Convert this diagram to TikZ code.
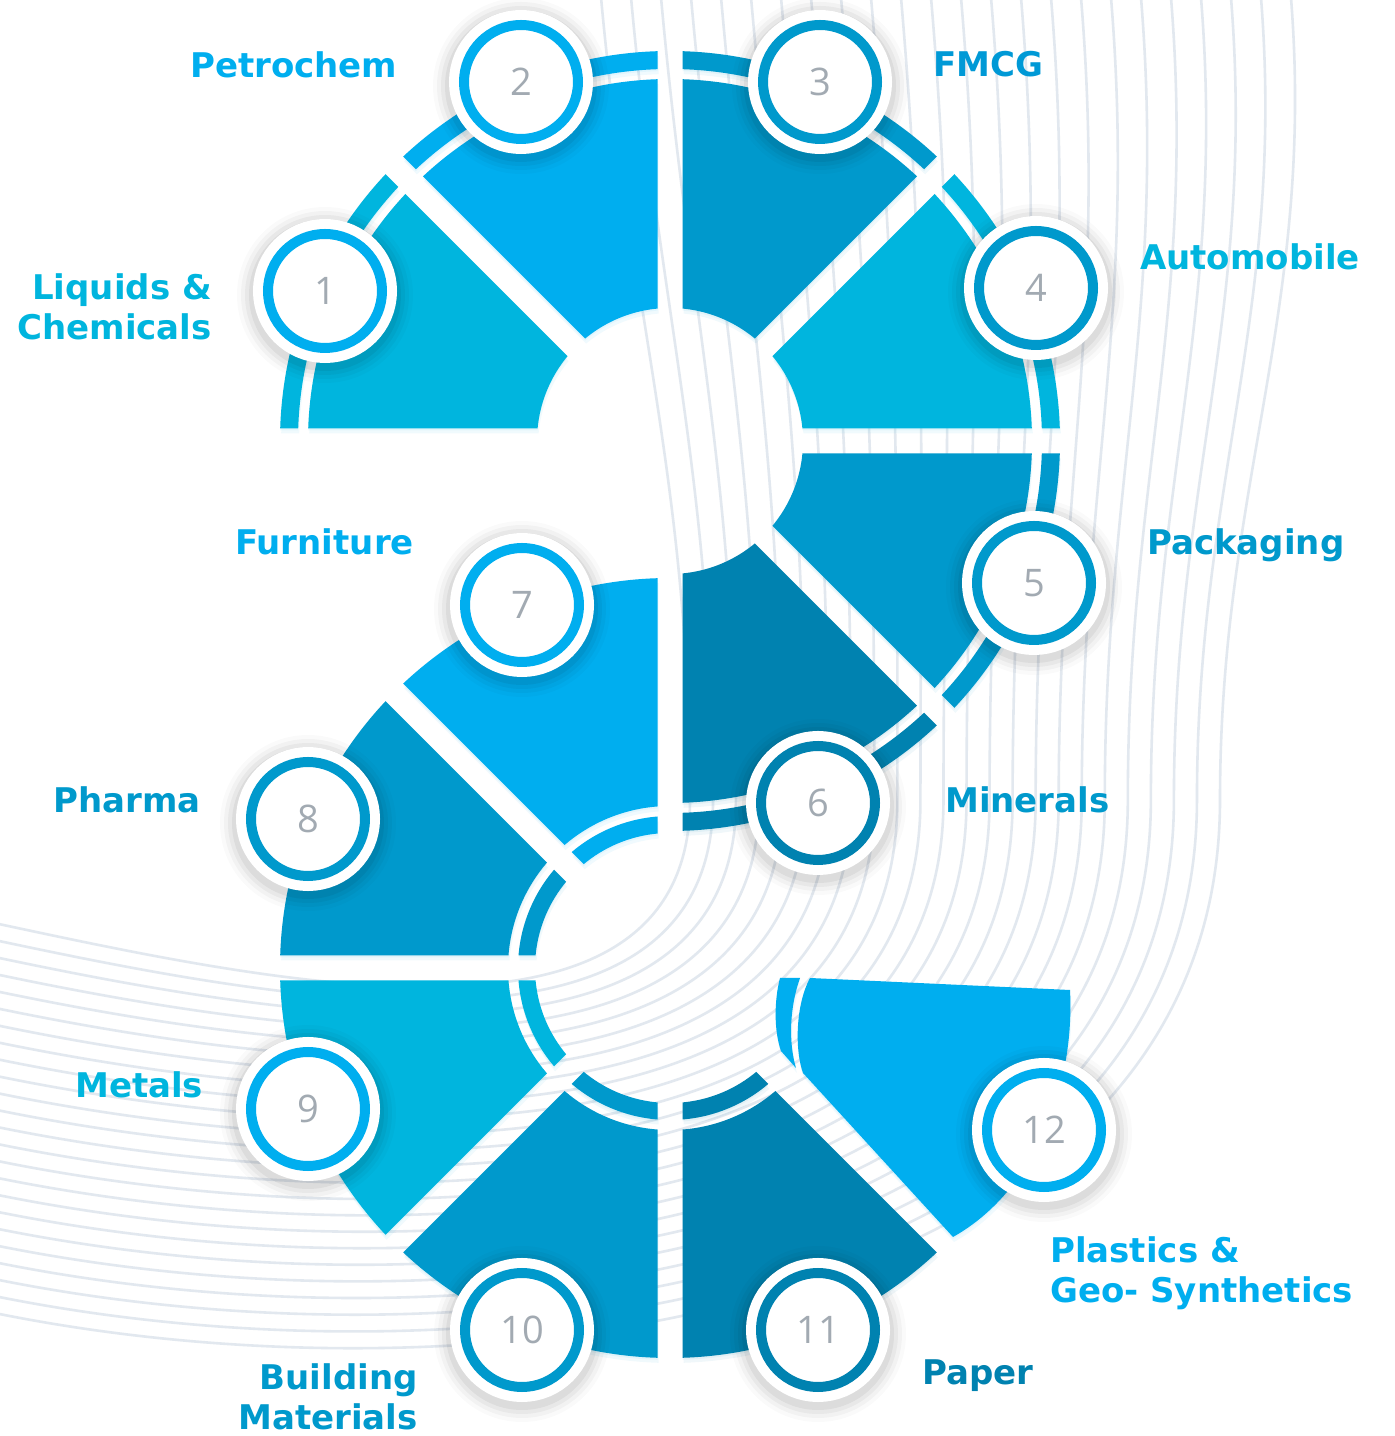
\documentclass[tikz,border=0pt]{standalone}
\usepackage{fontspec}
\setmainfont{DejaVu Sans}
\newfontfamily\numfont{Open Sans}
\usetikzlibrary{calc}

\definecolor{cA}{HTML}{00B5DE}
\definecolor{cB}{HTML}{00AEEF}
\definecolor{cC}{HTML}{0099CC}
\definecolor{cD}{HTML}{0082B0}
\definecolor{cF}{HTML}{0099D6}
\definecolor{bgl}{HTML}{E2E8EF}
\definecolor{numgray}{HTML}{A2AAB2}

% #1 cx, #2 cy, #3 a1, #4 a2, #5 style, #6 fill rin, #7 fill rout, #8 band rin, #9 band rout
\newcommand\ringseg[9]{%
  \pgfmathsetmacro\sgBis{(#3+#4)/2}%
  \pgfmathsetmacro\sgApx{12.5/sin((#4-#3)/2)}%
  \pgfmathsetmacro\sgPx{#1+\sgApx*cos(\sgBis)}%
  \pgfmathsetmacro\sgPy{#2+\sgApx*sin(\sgBis)}%
  \begin{scope}
    \clip (\sgPx,\sgPy) -- ({\sgPx+900*cos(#3)},{\sgPy+900*sin(#3)})
      -- ({\sgPx+1200*cos(\sgBis)},{\sgPy+1200*sin(\sgBis)})
      -- ({\sgPx+900*cos(#4)},{\sgPy+900*sin(#4)}) -- cycle;
    \fill[#5, even odd rule] (#1,#2) circle[radius=#7pt] (#1,#2) circle[radius=#6pt];
    \fill[#5, even odd rule] (#1,#2) circle[radius=#9pt] (#1,#2) circle[radius=#8pt];
  \end{scope}}

% segment 12 (irregular)
\newcommand\segtwelve[1]{%
  \fill[#1] (810,458) -- (1070,446) .. controls (1075,350) and (1035,245) .. (953,199) -- (803,363)
     .. controls (795,385) and (795,430) .. cycle;
  \fill[#1] (780,458) -- (800,458) .. controls (790,430) and (788,395) .. (796,368) -- (781,385)
     .. controls (774,405) and (774,435) .. cycle;}

\newcommand\allsegs[1]{%
  % top wheel, centre (670,995)
  \ringseg{670}{995}{135}{180}{#1,cA}{133}{362}{372}{390}
  \ringseg{670}{995}{90}{135}{#1,cB}{133}{362}{372}{390}
  \ringseg{670}{995}{45}{90}{#1,cC}{133}{362}{372}{390}
  \ringseg{670}{995}{0}{45}{#1,cA}{133}{362}{372}{390}
  \ringseg{670}{995}{-45}{0}{#1,cC}{133}{362}{372}{390}
  \ringseg{670}{995}{-90}{-45}{#1,cD}{133}{362}{372}{390}
  % lower wheel, centre (670,468)
  \ringseg{670}{468}{90}{135}{#1,cB}{162}{390}{135}{152}
  \ringseg{670}{468}{135}{180}{#1,cC}{162}{390}{135}{152}
  \ringseg{670}{468}{180}{225}{#1,cA}{162}{390}{135}{152}
  \ringseg{670}{468}{225}{270}{#1,cC}{162}{390}{135}{152}
  \ringseg{670}{468}{270}{315}{#1,cD}{162}{390}{135}{152}
  \segtwelve{#1,cB}}

\tikzset{
  bgline/.style={bgl, line width=2.6pt},
  badge/.style={circle, draw=#1, line width=10pt, fill=white, minimum size=114pt,
    inner sep=0pt, text=numgray, font=\numfont\fontsize{38}{38}\selectfont,
    preaction={draw=white, line width=30pt}},
  lab/.style={font=\bfseries\fontsize{34}{40}\selectfont, inner sep=0pt, text=#1},
  segshadow/.style={black, opacity=0.06},
  plain/.style={},
}

\newcommand\badgeshadow[2]{%
  \foreach \k/\op in {16/0.02,12/0.03,8/0.04,4/0.05}{
    \fill[black, opacity=\op] (#1,#2-4) circle[radius=72pt+\k pt];}}

\begin{document}
\begin{tikzpicture}[x=1pt,y=1pt]
  \fill[white] (0,0) rectangle (1395,1436);
  \useasboundingbox (0,0) rectangle (1395,1436);

  % background swirl lines
  \begin{scope}
    \clip (0,0) rectangle (1395,1436);
    \foreach \i in {0,...,23}{
      \pgfmathsetmacro\lxa{600+690*\i/23}
      \pgfmathsetmacro\lxb{690+530*\i/23}
      \pgfmathsetmacro\lye{1436-(920+390*\i/23)}
      \pgfmathsetmacro\ldd{280+235*\i/23}
      \draw[bgline] (\lxa,1450) .. controls ({\lxa+28},1131) and (\lxb,956) .. (\lxb,636)
        .. controls (\lxb,{636-\ldd}) and ({-20+0.978*\ldd},{\lye-0.208*\ldd}) .. (-20,\lye);
    }
  \end{scope}

  % segment shadows
  \begin{scope}[shift={(1,-5)}]
    \allsegs{segshadow}
  \end{scope}
  \begin{scope}[shift={(0,-2)}]
    \allsegs{segshadow}
  \end{scope}
  % segments
  \allsegs{plain}

  % badges
  \badgeshadow{325}{1145}  \node[badge=cB] (b1)  at (325,1145) {1};
  \badgeshadow{521}{1354}  \node[badge=cB] (b2)  at (521,1354) {2};
  \badgeshadow{820}{1354}  \node[badge=cC] (b3)  at (820,1354) {3};
  \badgeshadow{1036}{1148} \node[badge=cC] (b4)  at (1036,1148) {4};
  \badgeshadow{1034}{853}  \node[badge=cC] (b5)  at (1034,853) {5};
  \badgeshadow{818}{633}   \node[badge=cD] (b6)  at (818,633) {6};
  \badgeshadow{522}{831}   \node[badge=cB] (b7)  at (522,831) {7};
  \badgeshadow{308}{617}   \node[badge=cC] (b8)  at (308,617) {8};
  \badgeshadow{308}{327}   \node[badge=cB] (b9)  at (308,327) {9};
  \badgeshadow{522}{106}   \node[badge=cC] (b10) at (522,106) {10};
  \badgeshadow{818}{106}   \node[badge=cD] (b11) at (818,106) {11};
  \badgeshadow{1044}{306}  \node[badge=cB] (b12) at (1044,306) {12};

  % labels
  \node[lab=cA, anchor=east, align=right] (l1) at (212,1129) {Liquids \&\\Chemicals};
  \node[lab=cB, anchor=base west] (l2) at (190,1358) {Petrochem};
  \node[lab=cF, anchor=base west] (l3) at (933,1359) {FMCG};
  \node[lab=cA, anchor=base west] (l4) at (1140,1166) {Automobile};
  \node[lab=cC, anchor=base west] (l5) at (1147,881) {Packaging};
  \node[lab=cC, anchor=base west] (l6) at (945,623) {Minerals};
  \node[lab=cB, anchor=base west] (l7) at (235,881) {Furniture};
  \node[lab=cC, anchor=base west] (l8) at (53,623) {Pharma};
  \node[lab=cA, anchor=base west] (l9) at (75,338) {Metals};
  \node[lab=cC, anchor=east, align=right] (l10) at (418,39) {Building\\Materials};
  \node[lab=cD, anchor=base west] (l11) at (922,51) {Paper};
  \node[lab=cB, anchor=west, align=left] (l12) at (1050,163) {Plastics \&\\Geo- Synthetics};
\end{tikzpicture}
\end{document}
